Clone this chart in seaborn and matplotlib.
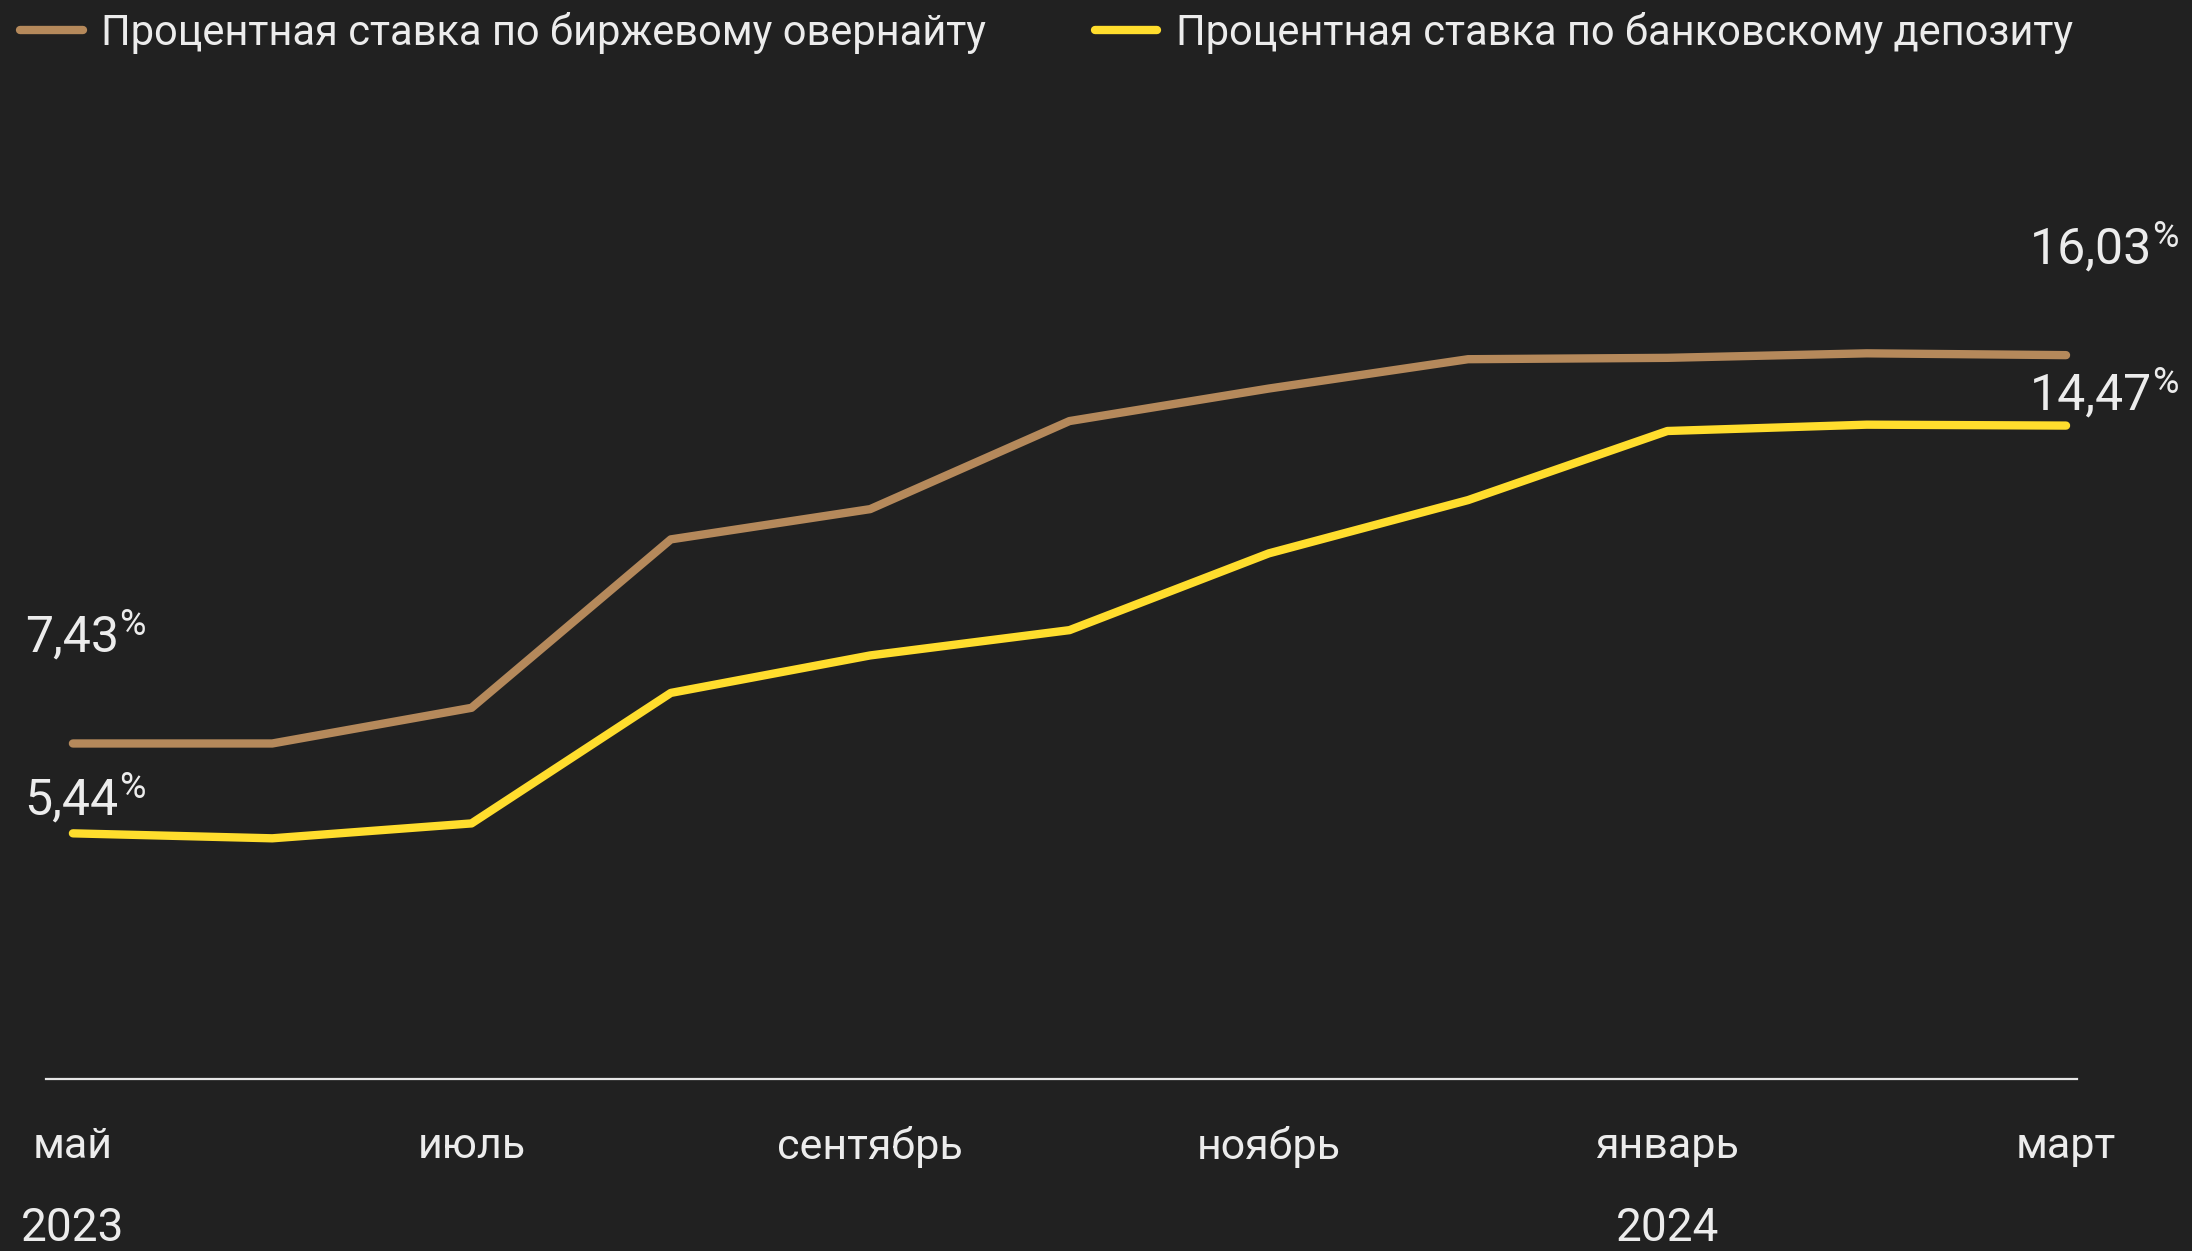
import matplotlib
matplotlib.use("Agg")
import matplotlib.pyplot as plt
import matplotlib.transforms as mtransforms
import pandas as pd
import seaborn as sns

# monthly points, May 2023 .. March 2024
months = list(range(11))
overnight = [7.43, 7.43, 8.22, 11.95, 12.62, 14.57, 15.29, 15.94, 15.97, 16.07, 16.03]
deposit = [5.44, 5.33, 5.66, 8.55, 9.38, 9.94, 11.64, 12.82, 14.35, 14.49, 14.47]

series_names = ["Процентная ставка по биржевому овернайту",
                "Процентная ставка по банковскому депозиту"]
tick_pos = [0, 2, 4, 6, 8, 10]
tick_labels = ["май", "июль", "сентябрь", "ноябрь", "январь", "март"]
year_pos = [0, 8]
year_labels = ["2023", "2024"]

BG = "#212121"
TEXT = "#ececec"
colors = ["#b5895b", "#ffdd2d"]

df = pd.DataFrame({
    "month": months * 2,
    "rate": overnight + deposit,
    "series": [series_names[0]] * 11 + [series_names[1]] * 11,
})

sns.set_style("dark")
plt.rcParams["font.family"] = ["Roboto", "DejaVu Sans"]

fig = plt.figure(figsize=(21.92, 12.51), dpi=100, facecolor=BG)
ax = fig.add_axes([46 / 2192, 172 / 1251, 2031 / 2192, 979 / 1251])
ax.set_facecolor(BG)

sns.lineplot(data=df, x="month", y="rate", hue="series", palette=colors,
             linewidth=6, ax=ax, solid_capstyle="round", legend=True)

ax.set_xlim(-0.135, 10.055)
ax.set_ylim(0, 21.68)
ax.grid(False)
for s in ["top", "left", "right"]:
    ax.spines[s].set_visible(False)
ax.spines["bottom"].set_color("#e6e6e6")
ax.spines["bottom"].set_linewidth(1.6)
ax.set_yticks([])
ax.set_xticks(tick_pos)
ax.set_xticklabels(tick_labels, fontsize=31, color=TEXT)
ax.tick_params(axis="x", length=0, pad=34)
ax.set_xlabel("")
ax.set_ylabel("")

# years under the month labels
trans = mtransforms.blended_transform_factory(ax.transData, fig.transFigure)
for xp, yl in zip(year_pos, year_labels):
    ax.text(xp, 0.001, yl, transform=trans, ha="center", va="bottom",
            fontsize=33, color=TEXT)

# start / end value labels (number + raised percent sign)
def value_label(x, y, dx, dy, value):
    num = f"{value:.2f}".replace(".", ",")
    ax.text(x + dx, y + dy, num, ha="right", va="baseline", fontsize=36,
            color=TEXT, clip_on=False)
    ax.text(x + dx + 0.003, y + dy + 0.36, "%", ha="left", va="baseline",
            fontsize=26, color=TEXT, clip_on=False)

value_label(months[0], overnight[0], 0.23, 2.04, overnight[0])
value_label(months[0], deposit[0], 0.23, 0.42, deposit[0])
value_label(months[-1], overnight[-1], 0.43, 2.04, overnight[-1])
value_label(months[-1], deposit[-1], 0.43, 0.36, deposit[-1])

handles, labels = ax.get_legend_handles_labels()
ax.get_legend().remove()
leg = fig.legend(handles, labels, loc="upper left", ncol=2,
                 bbox_to_anchor=(20 / 2192, 1 - 12 / 1251), frameon=False,
                 handlelength=1.5, handletextpad=0.45, columnspacing=2.6,
                 borderaxespad=0, borderpad=0,
                 prop={"size": 30})
for t in leg.get_texts():
    t.set_color(TEXT)
for h in leg.get_lines():
    h.set_linewidth(6)
    h.set_solid_capstyle("round")

fig.savefig("out.png", dpi=100, facecolor=BG)
